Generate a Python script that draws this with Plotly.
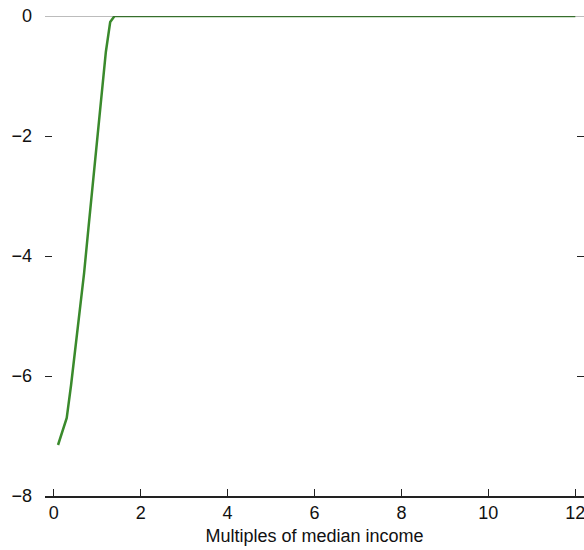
import plotly.graph_objects as go

x_vals = [0.1, 0.3, 0.4, 0.5, 0.6, 0.7, 0.8, 0.9, 1.0, 1.1, 1.2, 1.3, 1.4, 2, 3, 4, 5, 6, 7, 8, 9, 10, 11, 12]
y_vals = [-7.15, -6.7, -6.15, -5.55, -4.95, -4.28, -3.53, -2.78, -2.03, -1.28, -0.6, -0.1, 0, 0, 0, 0, 0, 0, 0, 0, 0, 0, 0, 0]
x_ticks = [0, 2, 4, 6, 8, 10, 12]
y_ticks = [-8, -6, -4, -2, 0]

font_family = "Liberation Sans, Arial, sans-serif"

fig = go.Figure()
fig.add_trace(go.Scatter(x=x_vals, y=y_vals, mode="lines",
                         line=dict(color="#3a8a2c", width=2.5), showlegend=False,
                         hoverinfo="skip"))
fig.add_trace(go.Scatter(x=[None], y=[None], yaxis="y2", showlegend=False))

# zero reference line drawn over the series
fig.add_shape(type="line", xref="paper", x0=0, x1=1, yref="y", y0=0, y1=0,
              line=dict(color="rgba(50,50,50,0.65)", width=1), layer="above")

# Figure slightly wider than the window so the plot area runs to the window edge
fig.update_layout(
    width=600, height=550,
    margin=dict(l=45, r=16, t=16, b=54, autoexpand=False),
    paper_bgcolor="white", plot_bgcolor="white",
    font=dict(family=font_family, size=18, color="#111"),
    xaxis=dict(range=[-0.2, 12.2], tickvals=x_ticks, ticks="inside", ticklen=7,
               tickcolor="#222", tickwidth=1.2, showline=True, linecolor="#222",
               linewidth=1.5, showgrid=False, zeroline=False, automargin=False,
               title=dict(text="Multiples of median income", standoff=7,
                          font=dict(size=18))),
    yaxis=dict(range=[-8, 0], tickvals=y_ticks, ticks="inside", ticklen=7,
               tickcolor="#222", tickwidth=1.2, showline=False, showgrid=False,
               zeroline=False, automargin=False, ticklabelstandoff=12),
    yaxis2=dict(range=[-8, 0], overlaying="y", side="right", tickvals=y_ticks,
                ticks="inside", ticklen=7, tickcolor="#222", tickwidth=1.2,
                showticklabels=False, showline=False, showgrid=False, zeroline=False,
                automargin=False),
)

fig.write_html(
    "out.html",
    config={"displayModeBar": False},
    post_script="document.body.style.margin='0';document.body.style.overflow='hidden';",
)
